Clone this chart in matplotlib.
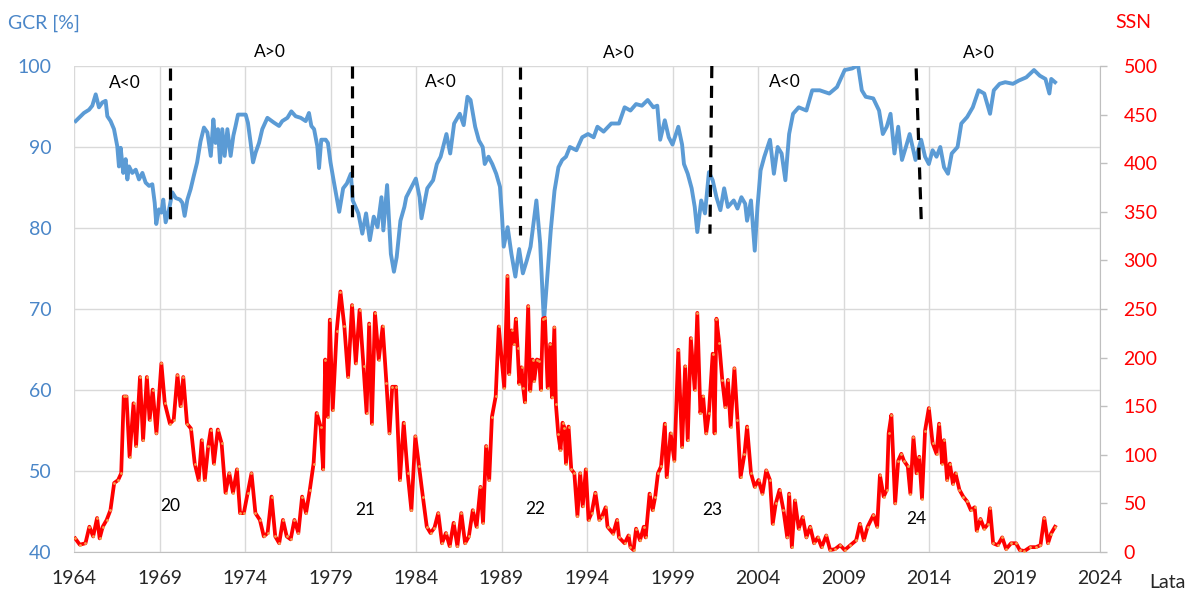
import matplotlib
matplotlib.use('Agg')
import matplotlib.pyplot as plt

plt.rcParams['font.family'] = ['Lato', 'DejaVu Sans']

# ---------------- data ----------------
gcr_year = [1964.10, 1964.58, 1964.88, 1965.07, 1965.27, 1965.46, 1965.66, 1965.85, 1965.95, 1966.14,
            1966.34, 1966.53, 1966.63, 1966.73, 1966.88, 1967.02, 1967.12, 1967.22, 1967.41, 1967.61,
            1967.80, 1968.00, 1968.19, 1968.39, 1968.58, 1968.72, 1968.81, 1968.97, 1969.11, 1969.22,
            1969.36, 1969.56, 1969.75, 1969.95, 1970.20, 1970.34, 1970.47, 1970.63, 1970.82, 1971.00,
            1971.20, 1971.40, 1971.60, 1971.80, 1972.00, 1972.15, 1972.28, 1972.42, 1972.54, 1972.67,
            1972.81, 1972.97, 1973.16, 1973.32, 1973.45, 1973.59, 1973.84, 1974.04, 1974.17, 1974.33,
            1974.47, 1974.62, 1974.82, 1975.01, 1975.31, 1975.70, 1975.99, 1976.18, 1976.48, 1976.71,
            1976.96, 1977.26, 1977.55, 1977.74, 1977.88, 1978.04, 1978.23, 1978.33, 1978.46, 1978.72,
            1978.85, 1979.00,
            1979.18, 1979.51, 1979.74, 1979.96, 1980.19, 1980.30, 1980.63, 1980.86, 1981.08, 1981.30,
            1981.53, 1981.75, 1981.98, 1982.09, 1982.31, 1982.53, 1982.71, 1982.87, 1983.09, 1983.32,
            1983.43, 1983.65, 1983.99, 1984.21, 1984.32, 1984.66, 1985.00, 1985.22, 1985.44, 1985.78,
            1986.00, 1986.23, 1986.56, 1986.79, 1987.01, 1987.19, 1987.46, 1987.68, 1987.90, 1988.02,
            1988.24, 1988.46, 1988.69, 1988.91, 1989.02, 1989.13, 1989.36, 1989.58, 1989.81, 1990.03,
            1990.25, 1990.48, 1990.70, 1991.04, 1991.26, 1991.48, 1991.88, 1992.10, 1992.33, 1992.55,
            1992.77, 1993.00, 1993.38, 1993.72, 1994.06, 1994.39, 1994.61, 1994.97, 1995.42, 1995.87,
            1996.20, 1996.54, 1996.87, 1997.21, 1997.55, 1997.88, 1998.11, 1998.28, 1998.55, 1998.78,
            1999.00, 1999.34, 1999.56, 1999.67, 1999.89, 2000.12, 2000.30, 2000.45, 2000.68, 2000.90,
            2001.13, 2001.35, 2001.57, 2001.80, 2002.02, 2002.24, 2002.58, 2002.80, 2003.03, 2003.25,
            2003.36, 2003.59, 2003.81, 2003.97, 2004.15, 2004.37, 2004.70, 2004.93, 2005.15, 2005.38,
            2005.60, 2005.82, 2006.05, 2006.38, 2006.83, 2007.17, 2007.61, 2008.17, 2008.62, 2009.07,
            2009.51, 2009.85, 2010.07, 2010.30, 2010.74, 2011.08, 2011.30, 2011.53, 2011.75, 2011.98,
            2012.20, 2012.42, 2012.65, 2012.87, 2013.21, 2013.54, 2013.77, 2013.99, 2014.21, 2014.44,
            2014.66, 2014.88, 2015.11, 2015.33, 2015.67, 2015.89, 2016.23, 2016.56, 2016.90, 2017.23,
            2017.57, 2017.79, 2018.13, 2018.46, 2018.91, 2019.25, 2019.69, 2020.14, 2020.48, 2020.81,
            2021.04, 2021.15, 2021.37]
gcr_value = [93.2, 94.2, 94.6, 95.1, 96.5, 94.9, 95.5, 95.7, 93.8, 93.2,
             92.2, 90.1, 87.6, 89.9, 86.8, 88.5, 86.0, 87.6, 86.8, 87.2,
             86.0, 86.8, 85.6, 85.2, 85.4, 83.1, 80.5, 82.3, 81.9, 83.5,
             80.7, 82.3, 84.4, 83.7, 83.5, 83.1, 81.5, 83.5, 84.8, 86.4,
             88.1, 90.7, 92.4, 91.8, 88.9, 93.4, 90.5, 92.2, 88.1, 92.2,
             88.9, 92.2, 88.9, 91.4, 92.6, 94.0, 94.0, 94.0, 93.0, 90.5,
             88.1, 89.3, 90.5, 92.2, 93.6, 93.0, 92.6, 93.2, 93.6, 94.4,
             93.8, 93.6, 93.2, 94.2, 92.6, 92.2, 90.1, 87.4, 90.9, 90.9,
             90.5, 88.1,
             85.9, 82.0, 84.9, 85.5, 86.7, 83.4, 81.8, 79.3, 81.8, 78.5,
             81.4, 80.1, 83.8, 79.7, 85.3, 76.8, 74.6, 76.4, 80.9, 82.6,
             83.8, 84.7, 86.1, 83.8, 81.2, 84.9, 85.9, 87.9, 88.8, 91.6,
             89.2, 92.9, 94.1, 92.7, 96.2, 95.8, 92.5, 90.8, 90.0, 87.9,
             88.8, 87.9, 86.7, 85.1, 81.8, 77.7, 80.1, 76.8, 74.0, 77.4,
             74.4, 76.0, 77.7, 83.4, 78.1, 68.4, 79.7, 84.6, 87.5, 88.4,
             88.8, 90.0, 89.6, 91.2, 91.6, 91.2, 92.5, 91.9, 92.9, 92.9,
             94.9, 94.5, 95.3, 95.1, 95.8, 94.9, 95.1, 90.9, 93.3, 91.2,
             90.3, 92.5, 90.3, 87.9, 86.7, 84.9, 82.6, 79.5, 83.4, 81.8,
             86.9, 85.9, 83.8, 82.2, 84.9, 82.6, 83.4, 82.4, 83.8, 83.0,
             80.9, 83.4, 77.2, 82.6, 87.1, 88.8, 90.9, 86.7, 90.0, 89.2,
             85.9, 91.6, 94.1, 94.9, 94.5, 97.0, 97.0, 96.6, 97.4, 99.5,
             99.7, 100.1, 97.0, 96.2, 96.0, 94.5, 91.6, 92.5, 94.1, 89.2,
             92.5, 88.4, 90.0, 91.6, 88.4, 90.9, 88.8, 87.9, 89.6, 88.8,
             90.0, 87.5, 86.7, 89.2, 90.0, 92.9, 93.7, 94.9, 97.0, 96.6,
             94.1, 97.0, 97.8, 98.0, 97.8, 98.2, 98.6, 99.5, 98.8, 98.4,
             96.6, 98.4, 98.0]

ssn_year = [1964.07, 1964.34, 1964.67, 1964.90, 1965.12, 1965.35, 1965.50, 1965.68, 1965.91, 1966.13,
            1966.35, 1966.58, 1966.76, 1966.91, 1967.07, 1967.25, 1967.48, 1967.63, 1967.86, 1968.04,
            1968.26, 1968.42, 1968.60, 1968.82, 1969.11, 1969.31, 1969.61, 1969.83, 1970.05, 1970.23,
            1970.39, 1970.61, 1970.84, 1971.06, 1971.29, 1971.47, 1971.65, 1971.85, 1972.00, 1972.18,
            1972.41, 1972.63, 1972.86, 1973.08, 1973.30, 1973.53, 1973.71, 1973.93, 1974.16, 1974.38,
            1974.61, 1974.87, 1975.10, 1975.32, 1975.55, 1975.77, 1976.00, 1976.22, 1976.44, 1976.67,
            1976.89, 1977.12, 1977.34, 1977.57, 1977.79, 1978.01, 1978.19, 1978.42, 1978.57, 1978.69,
            1978.84, 1978.96, 1979.13, 1979.36, 1979.58, 1979.81, 1980.03, 1980.26, 1980.48, 1980.70,
            1980.93, 1981.11, 1981.26, 1981.42, 1981.60, 1981.82, 1982.05, 1982.27, 1982.45, 1982.61,
            1982.83, 1983.06, 1983.28, 1983.51, 1983.73, 1983.96, 1984.18, 1984.40, 1984.63, 1984.85,
            1985.08, 1985.30, 1985.52, 1985.75, 1985.97, 1986.20, 1986.42, 1986.65, 1986.87, 1987.09,
            1987.32, 1987.54, 1987.77, 1987.92, 1988.10, 1988.28, 1988.44, 1988.66, 1988.84,
            1989.16, 1989.35, 1989.45, 1989.59, 1989.74, 1989.84, 1989.94, 1990.04, 1990.17, 1990.27,
            1990.37, 1990.56, 1990.68, 1990.82, 1990.91, 1991.07, 1991.21, 1991.30, 1991.42, 1991.54,
            1991.70, 1991.85, 1991.95, 1992.09, 1992.18, 1992.32, 1992.45, 1992.57, 1992.68, 1992.77,
            1992.92, 1993.08, 1993.26, 1993.44, 1993.60, 1993.75,
            1993.93, 1994.09, 1994.27, 1994.49, 1994.72, 1994.86, 1995.09, 1995.20, 1995.53, 1995.76,
            1995.87, 1996.20, 1996.43, 1996.54, 1996.72, 1996.87, 1997.10, 1997.32, 1997.43, 1997.66,
            1997.84, 1997.99, 1998.15, 1998.33, 1998.55, 1998.66, 1998.89, 1999.11, 1999.34, 1999.56,
            1999.74, 1999.89, 2000.07, 2000.30, 2000.45, 2000.63, 2000.79, 2000.97, 2001.13, 2001.35,
            2001.46, 2001.57, 2001.73, 2001.91, 2002.09, 2002.24, 2002.40, 2002.62, 2002.80, 2002.98,
            2003.21, 2003.36, 2003.59, 2003.81, 2004.03, 2004.26, 2004.48, 2004.70, 2004.86, 2005.04,
            2005.26, 2005.49, 2005.71, 2005.82, 2005.98, 2006.16, 2006.38, 2006.61, 2006.83, 2007.05,
            2007.28, 2007.50, 2007.72, 2007.99, 2008.22, 2008.51, 2008.80, 2009.07, 2009.40, 2009.74,
            2009.96, 2010.19, 2010.41, 2010.75, 2010.97, 2011.13, 2011.35, 2011.53, 2011.64, 2011.80,
            2012.02, 2012.20, 2012.38, 2012.53, 2012.76, 2012.91, 2013.09, 2013.27, 2013.43, 2013.59,
            2013.77, 2013.99, 2014.21, 2014.44, 2014.59, 2014.77, 2014.88, 2015.06, 2015.22, 2015.40,
            2015.55, 2015.78, 2016.00, 2016.23, 2016.45, 2016.67, 2016.79, 2017.01, 2017.23, 2017.46,
            2017.57, 2017.75, 2018.02, 2018.28, 2018.51, 2018.80, 2019.09, 2019.31, 2019.58, 2019.92,
            2020.25, 2020.52, 2020.74, 2020.96, 2021.14, 2021.37]
ssn_value = [14, 7.5, 9, 26, 16, 35, 14, 26, 33, 43,
             71, 74, 81, 160, 160, 98, 153, 109, 180, 115,
             180, 136, 167, 122, 194, 153, 132, 136, 182, 150,
             180, 132, 127, 91, 74, 115, 74, 109, 126, 91,
             126, 112, 61, 81, 61, 85, 40, 40, 61, 81,
             40, 33, 16, 19.5, 57, 16, 9, 33, 16, 13,
             33, 19.5, 57, 40, 64, 91, 143, 129, 85, 198,
             139, 239, 146, 227, 268, 232, 180, 254, 194, 249,
             191, 143, 235, 132, 246, 198, 232, 174, 122, 170,
             170, 74, 133, 81, 43, 119, 88, 57, 26, 19.5,
             25, 40, 9, 19.5, 6, 30, 6, 40, 9, 16,
             43, 26, 67, 30, 109, 74, 139, 160, 232,
             169, 284, 183, 228, 214, 240, 210, 173, 190, 169,
             154, 253, 166, 198, 176, 198, 197, 167, 240, 241,
             169, 214, 159, 231, 152, 121, 105, 133, 128, 91,
             129, 85, 81, 37, 81, 47,
             85, 33, 40, 61, 33, 36, 46, 26, 19, 33,
             15, 9, 17, 5, 2, 24, 12, 26, 15, 60,
             43, 57, 81, 88, 132, 77, 122, 94, 208, 108,
             191, 115, 220, 167, 246, 143, 160, 122, 143, 204,
             122, 240, 215, 177, 149, 177, 129, 189, 136, 77,
             101, 129, 81, 67, 74, 60, 84, 74, 29, 50,
             64, 43, 15, 60, 5, 53, 24, 36, 15, 26,
             9, 15, 5, 17, 2, 3, 7, 2, 7, 12,
             29, 12, 26, 38, 26, 79, 57, 64, 122, 141,
             50, 94, 101, 94, 88, 60, 118, 81, 98, 55,
             125, 148, 112, 101, 132, 91, 115, 74, 91, 70,
             81, 64, 57, 52, 43, 46, 22, 34, 24, 29,
             45, 9, 7, 15, 3, 9, 9, 2, 1, 5,
             5, 7, 35, 9, 19, 26]

x_ticks = [1964, 1969, 1974, 1979, 1984, 1989, 1994, 1999, 2004, 2009, 2014, 2019, 2024]
gcr_ticks = [40, 50, 60, 70, 80, 90, 100]
ssn_ticks = [0, 50, 100, 150, 200, 250, 300, 350, 400, 450, 500]

# polarity reversal markers (dashed lines)
reversal_year_top = [1969.63, 1980.25, 1990.07, 2001.30, 2013.25]
reversal_year_bottom = [1969.63, 1980.25, 1990.07, 2001.19, 2013.55]
reversal_gcr_top = [99.7, 100.0, 99.9, 100.0, 99.7]
reversal_gcr_bottom = [80.7, 81.2, 79.1, 79.3, 80.7]

polarity_labels = ['A<0', 'A>0', 'A<0', 'A>0', 'A<0', 'A>0']
polarity_year = [1966.99, 1975.44, 1985.44, 1995.87, 2005.55, 2016.9]
polarity_gcr = [97.9, 101.7, 98.0, 101.6, 98.0, 101.6]

cycle_labels = ['20', '21', '22', '23', '24']
cycle_year = [1969.65, 1981.04, 1990.95, 2001.35, 2013.27]
cycle_ssn = [46.9, 43.5, 44.2, 43.6, 34.3]

# ---------------- styling ----------------
BLUE = '#5B9BD5'
BLUE_TXT = '#4A86C8'
RED = '#FF0000'
GRID = '#D9D9D9'
AXIS = '#BFBFBF'
TXT = '#262626'

fig = plt.figure(figsize=(11.92, 5.92), dpi=100)
ax = fig.add_axes([74 / 1192, 40 / 592, 1026 / 1192, 486 / 592])
ax2 = ax.twinx()

ax.set_xlim(1964, 2024)
ax.set_ylim(40, 100)
ax2.set_ylim(0, 500)

ax.set_xticks(x_ticks)
ax.set_xticklabels([str(t) for t in x_ticks])
ax.set_yticks(gcr_ticks)
ax2.set_yticks(ssn_ticks)

ax.grid(True, color=GRID, linewidth=1.0)
ax.set_axisbelow(True)

for s in ['top', 'left']:
    ax.spines[s].set_visible(False)
    ax2.spines[s].set_visible(False)
ax.spines['bottom'].set_color(AXIS)
ax2.spines['bottom'].set_visible(False)
ax.spines['right'].set_visible(False)
ax2.spines['right'].set_color(AXIS)

ax.tick_params(axis='x', length=0, pad=13, labelsize=14, labelcolor=TXT)
ax.tick_params(axis='y', length=0, pad=16, labelsize=14, labelcolor=BLUE_TXT)
ax2.tick_params(axis='y', length=5, width=1, color=AXIS, direction='out', pad=12,
                labelsize=14, labelcolor=RED)

# GCR series
ax.plot(gcr_year, gcr_value, color=BLUE, linewidth=2.8, solid_joinstyle='round', zorder=3)

# SSN series
ax2.plot(ssn_year, ssn_value, color=RED, linewidth=2.7, solid_joinstyle='round',
         marker='o', markersize=2.0, markerfacecolor='#F5A050', markeredgewidth=0, zorder=3)

# polarity reversal dashed lines
for xt, xb, yt, yb in zip(reversal_year_top, reversal_year_bottom, reversal_gcr_top, reversal_gcr_bottom):
    ax.plot([xt, xb], [yt, yb], color='black', linewidth=2.3, linestyle=(0, (3.8, 2.4)),
            zorder=4, clip_on=False)

for lab, xx, yy in zip(polarity_labels, polarity_year, polarity_gcr):
    ax.text(xx, yy, lab, ha='center', va='center', fontsize=12.5, color='black', clip_on=False)

for lab, xx, yy in zip(cycle_labels, cycle_year, cycle_ssn):
    ax2.text(xx, yy, lab, ha='center', va='center', fontsize=12.5, color='black')

fig.text(8 / 1192, 1 - 23 / 592, 'GCR [%]', ha='left', va='center', fontsize=14, color=BLUE_TXT)
fig.text(1133 / 1192, 1 - 23 / 592, 'SSN', ha='center', va='center', fontsize=14, color=RED)
fig.text(1149 / 1192, 1 - 582 / 592, 'Lata', ha='left', va='center', fontsize=14, color=TXT)

fig.savefig('out.png', dpi=100)
